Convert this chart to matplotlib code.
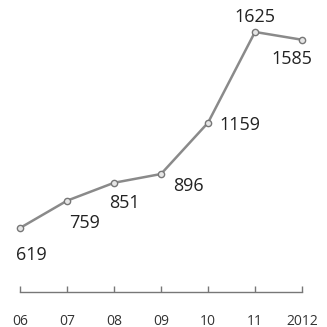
import matplotlib
matplotlib.use("Agg")
import matplotlib.pyplot as plt

years = ["06", "07", "08", "09", "10", "11", "2012"]
values = [619, 759, 851, 896, 1159, 1625, 1585]
label_offsets = [(11, -27), (18, -22), (10, -20), (27, -12), (32, -2), (0, 15), (-10, -19)]

plt.rcParams['font.family'] = ['Open Sans', 'DejaVu Sans']

fig = plt.figure(figsize=(3.27, 3.27), dpi=100)
fig.patch.set_facecolor('white')
W = 327.0
ax = fig.add_axes([20 / W, 35 / W, 282 / W, 292 / W])
x = list(range(len(years)))
ax.plot(x, values, color='#8a8a8a', lw=1.8, marker='o', ms=4.5,
        mfc='#e6e6e6', mec='#777777', mew=1.0, clip_on=False, zorder=3)
for xi, v, (dx, dy) in zip(x, values, label_offsets):
    ax.annotate(str(v), (xi, v), xytext=(dx, dy), textcoords='offset pixels',
                ha='center', va='center', fontsize=13, color='#222222')
ax.set_xlim(0, 6)
ax.set_ylim(290.5, 1789)
for s in ['top', 'right', 'left']:
    ax.spines[s].set_visible(False)
ax.spines['bottom'].set_color('#777777')
ax.spines['bottom'].set_linewidth(1.0)
ax.set_yticks([])
ax.set_xticks(x)
ax.set_xticklabels(years)
ax.tick_params(axis='x', direction='in', length=4, width=1.0, color='#777777',
               pad=15.5, labelsize=10, labelcolor='#333333')
ax.patch.set_alpha(0)
fig.savefig("out.png", dpi=100, facecolor='white')
